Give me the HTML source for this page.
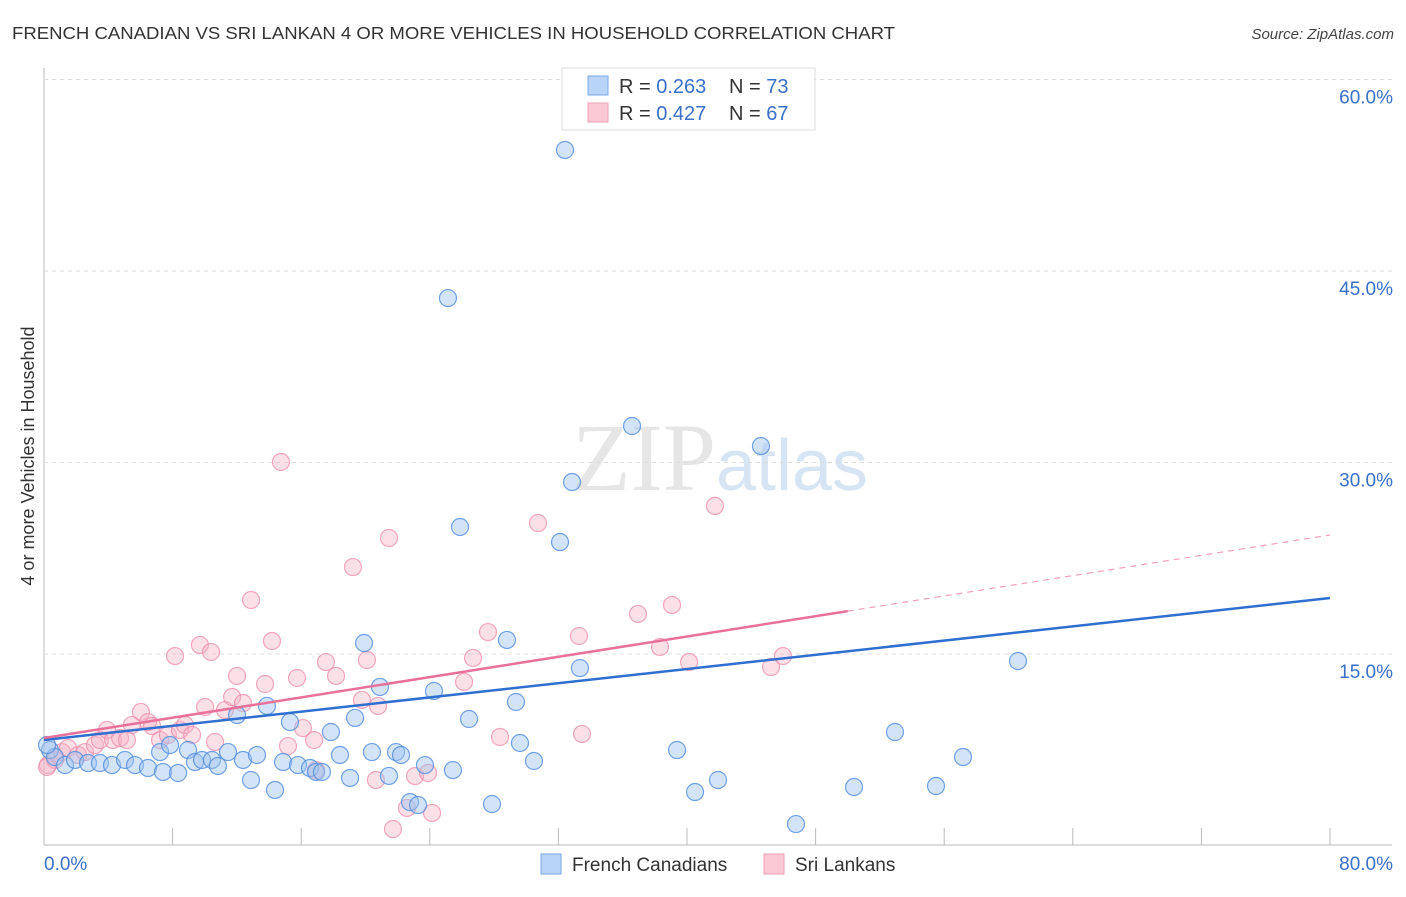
<!DOCTYPE html>
<html><head><meta charset="utf-8"><style>
body{margin:0;background:#fff;font-family:"Liberation Sans",sans-serif}
</style></head><body>
<svg width="1406" height="892" xmlns="http://www.w3.org/2000/svg" id="svg">
<text x="12" y="39" font-size="17.5" fill="#333" textLength="883" lengthAdjust="spacingAndGlyphs">FRENCH CANADIAN VS SRI LANKAN 4 OR MORE VEHICLES IN HOUSEHOLD CORRELATION CHART</text>
<text x="1394" y="39" font-size="15" fill="#444" text-anchor="end" font-style="italic">Source: ZipAtlas.com</text>
<text x="720" y="490" font-size="96" text-anchor="middle" fill="#e6e6e6" font-family="Liberation Serif">ZIP<tspan fill="#d6e4f4" font-family="Liberation Sans" font-size="72">atlas</tspan></text>
<text transform="translate(34,456) rotate(-90)" font-size="18" fill="#333" text-anchor="middle">4 or more Vehicles in Household</text>
<g id="grid"></g><g id="pts"></g><g id="lines"></g>
<g>
<rect x="562" y="68" width="253" height="62" fill="#fff" stroke="#ddd"/>
<rect x="588" y="76" width="20" height="19" fill="#b8d4f6" stroke="#7aaae6"/>
<rect x="588" y="103" width="20" height="19" fill="#fbc8d6" stroke="#f0a0b8"/>
<text x="619" y="93" font-size="20" fill="#333">R = <tspan fill="#3a70c8">0.263</tspan></text>
<text x="729" y="93" font-size="20" fill="#333">N = <tspan fill="#3a70c8">73</tspan></text>
<text x="619" y="120" font-size="20" fill="#333">R = <tspan fill="#3a70c8">0.427</tspan></text>
<text x="729" y="120" font-size="20" fill="#333">N = <tspan fill="#3a70c8">67</tspan></text>
</g>
<g>
<rect x="541" y="854" width="20" height="20" fill="#b8d4f6" stroke="#7aaae6"/>
<text x="572" y="871" font-size="19" fill="#333">French Canadians</text>
<rect x="764" y="854" width="20" height="20" fill="#fbc8d6" stroke="#f0a0b8"/>
<text x="795" y="871" font-size="19" fill="#333">Sri Lankans</text>
</g>
</svg>
<script>
const yTicks=[15,30,45,60];
const xTickLabels=["0.0%","80.0%"];
const blueX=[.37,.68,1.31,1.93,2.74,3.48,4.23,5.04,5.66,6.47,7.22,7.40,8.34,7.84,8.96,9.39,9.83,10.45,10.82,11.45,12.01,12.38,12.88,13.25,13.87,14.37,14.87,15.30,15.80,16.55,16.92,17.29,17.85,18.41,19.04,19.35,19.91,20.40,20.90,21.46,21.90,22.21,22.77,23.27,23.70,24.26,25.13,25.44,25.88,26.44,27.87,28.80,29.36,29.61,30.48,32.10,32.41,32.85,33.34,36.58,39.38,40.50,41.93,44.60,46.78,50.39,52.94,55.49,57.17,60.59,.19];
const blueY=[7.48,6.93,6.30,6.70,6.46,6.46,6.30,6.70,6.30,6.07,7.32,5.76,5.68,7.87,7.48,6.54,6.70,6.70,6.23,7.32,10.22,6.70,5.13,7.09,10.93,4.35,6.54,9.67,6.30,6.07,5.76,5.76,8.89,7.09,5.29,9.99,15.86,7.32,12.42,5.45,7.32,7.09,3.40,3.17,6.30,12.10,42.88,5.91,24.95,9.91,3.25,16.10,11.24,8.03,6.62,23.77,54.48,28.47,13.90,32.86,7.48,4.19,5.13,31.29,1.68,4.58,8.89,4.66,6.93,14.45,7.87];
const pinkX=[.25,.68,1.12,1.49,2.12,2.55,3.17,3.48,3.92,4.29,4.73,5.16,5.47,6.03,6.47,6.72,7.22,7.71,8.15,8.46,8.77,9.21,9.70,10.02,10.39,10.64,11.26,11.70,12.01,12.38,12.88,13.75,14.18,14.74,15.18,15.74,16.11,16.80,16.92,17.54,18.17,19.22,19.78,20.09,20.65,20.78,21.46,21.71,22.58,23.08,23.89,24.14,26.13,26.69,27.62,28.37,30.73,33.28,33.47,36.95,38.32,39.07,40.13,41.74,45.23,45.97,.19];
const pinkY=[6.30,6.70,7.32,7.64,7.09,7.32,7.87,8.26,9.05,8.26,8.42,8.26,9.44,10.46,9.67,9.36,8.26,8.66,14.84,9.05,9.44,8.66,15.71,10.85,15.16,8.11,10.61,11.63,13.28,11.16,19.23,12.65,16.02,30.04,7.79,13.12,9.20,8.26,5.91,14.37,13.28,21.81,11.40,14.53,5.13,10.93,24.09,1.29,2.94,5.44,5.68,2.55,12.81,14.69,16.72,8.50,25.26,16.41,8.74,18.14,15.55,18.84,14.37,26.60,13.98,14.84,6.15];
const blueLine=[8.26,19.39];
const pinkLine=[8.42,24.32]; const pinkSolidEnd=50;
const NS="http://www.w3.org/2000/svg";
const X=v=>44+v/80*1286, Y=v=>845.5-v/15*191.5;
function mk(t,a,p){const e=document.createElementNS(NS,t);for(const k in a)e.setAttribute(k,a[k]);p.appendChild(e);return e;}
const g=document.getElementById('grid');
let ax=mk('line',{x1:44,y1:68,x2:44,y2:845,stroke:'#bbb'},g);


let bx=mk('line',{x1:44,y1:845,x2:1392,y2:845,stroke:'#bbb'},g);


yTicks.forEach(t=>{
 const l=mk('line',{x1:44,x2:1392,y1:Y(t),y2:Y(t),stroke:'#ddd','stroke-dasharray':'4,4'},g);
 
 
 const tx=mk('text',{x:1393,y:Y(t)+24,'font-size':19,fill:'#3a70c8','text-anchor':'end'},g);
 tx.textContent=t.toFixed(1)+'%';
 
 
});
for(let i=1;i<=10;i++){
 const l=mk('line',{x1:X(i*8),x2:X(i*8),y1:828,y2:845,stroke:'#bbb'},g);
 
 
}
[[0,'start',44],[80,'end',1393]].forEach((d,i)=>{
 const tx=mk('text',{x:d[2],y:870,'font-size':19,fill:'#3a70c8','text-anchor':d[1]},g);
 tx.textContent=xTickLabels[i];
 
 
});
const pg=document.getElementById('pts');
function pts(xs,ys,fill,stroke,name){xs.forEach((x,i)=>{
 const c=mk('circle',{cx:X(x),cy:Y(ys[i]),r:8.5,fill:fill,stroke:stroke,'stroke-width':1.2},pg);
 
 
});}
pts(pinkX,pinkY,'rgba(248,178,198,0.4)','rgba(236,140,170,0.75)','sri-lankan-point');
pts(blueX,blueY,'rgba(160,196,240,0.45)','rgba(80,140,220,0.8)','french-canadian-point');
const lg=document.getElementById('lines');
let b=mk('line',{x1:X(0),y1:Y(blueLine[0]),x2:X(80),y2:Y(blueLine[1]),stroke:'#2f6fd0','stroke-width':2.5},lg);


const pm=v=>pinkLine[0]+(pinkLine[1]-pinkLine[0])*v/80;
let p=mk('line',{x1:X(0),y1:Y(pm(0)),x2:X(pinkSolidEnd),y2:Y(pm(pinkSolidEnd)),stroke:'#e8709a','stroke-width':2.5},lg);


let pd=mk('line',{x1:X(pinkSolidEnd),y1:Y(pm(pinkSolidEnd)),x2:X(80),y2:Y(pm(80)),stroke:'#f0a0b8','stroke-width':1.2,'stroke-dasharray':'6,5'},lg);


</script>
</body></html>
